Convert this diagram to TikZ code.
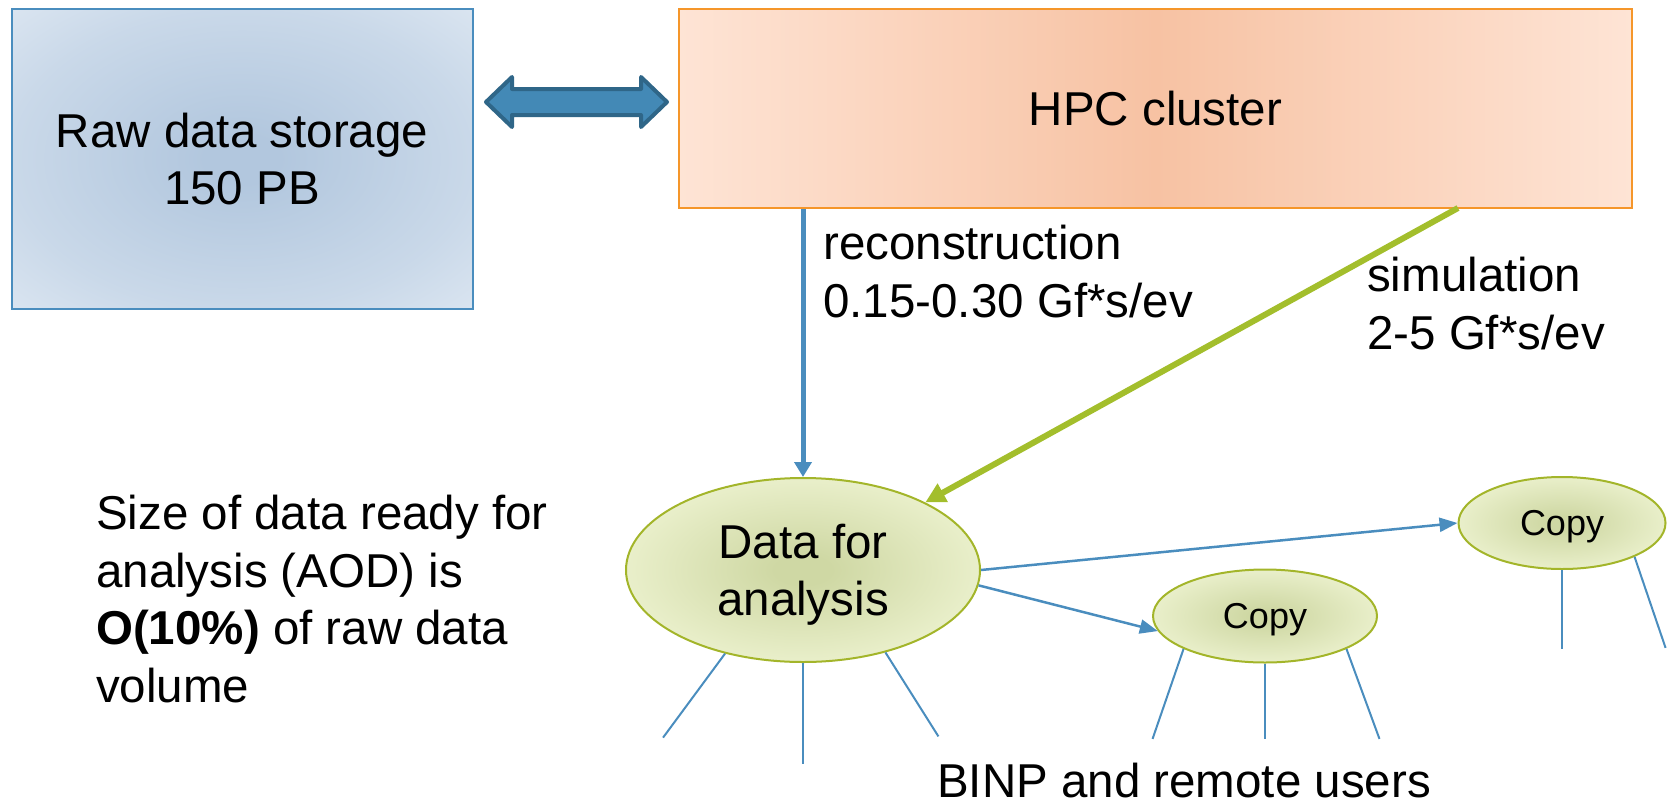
\documentclass[tikz,border=0pt]{standalone}
\usepackage{fontspec}
\setmainfont{Liberation Sans}
\usetikzlibrary{positioning,arrows.meta,shapes.geometric}

\definecolor{store-edge}{HTML}{4A8DBE}
\definecolor{store-in}{HTML}{B2C7DE}
\definecolor{store-out}{HTML}{D9E4F0}
\definecolor{hpc-edge}{HTML}{F5962A}
\definecolor{hpc-in}{HTML}{F7C2A3}
\definecolor{hpc-out}{HTML}{FEE4D5}
\definecolor{oval-edge}{HTML}{A3B52A}
\definecolor{oval-in}{HTML}{CFD8A4}
\definecolor{oval-out}{HTML}{E9EFCA}
\definecolor{line-blue}{HTML}{4A8DBE}
\definecolor{line-green}{HTML}{A3BE2C}
\definecolor{link-fill}{HTML}{4389B6}
\definecolor{link-edge}{HTML}{2F6688}

\pgfdeclareradialshading[store-in,store-out]{store-shade}{\pgfpoint{0bp}{0bp}}{%
  color(0bp)=(store-in); color(4bp)=(store-in); color(25bp)=(store-out!60!store-in); color(35bp)=(store-out); color(50bp)=(store-out)}
\pgfdeclareradialshading[oval-in,oval-out]{oval-shade}{\pgfpoint{0bp}{0bp}}{%
  color(0bp)=(oval-in); color(4bp)=(oval-in); color(25bp)=(oval-out); color(50bp)=(oval-out)}

\newcommand\txtbig{\fontsize{47.5}{57.5}\selectfont}
\newcommand\txtsmall{\fontsize{36}{43}\selectfont}

\begin{document}
\begin{tikzpicture}
[
x=1pt, y=-1pt,
box-a/.style={rectangle, draw=store-edge, line width=2pt, shading=store-shade, inner sep=0pt, align=center, font=\txtbig},
box-b/.style={rectangle, draw=hpc-edge, line width=2pt, left color=hpc-out, right color=hpc-out, middle color=hpc-in, inner sep=0pt, align=center, font=\txtbig},
oval-a/.style={ellipse, draw=oval-edge, line width=2pt, shading=oval-shade, inner sep=0pt, text depth=0pt, align=center, font=\txtbig},
oval-b/.style={oval-a, font=\txtsmall},
text-a/.style={black, inner sep=0pt, align=left, font=\txtbig},
link-a/.style={fill=link-fill, draw=link-edge, line width=4pt, line join=round},
arrow-a/.style={line-blue, line width=5pt, -{Triangle[length=15pt,width=17pt]}},
arrow-b/.style={line-green, line width=6pt, -{Triangle[length=20pt,width=20pt]}},
arrow-c/.style={line-blue, line width=2.5pt, -{Triangle[length=18pt,width=14pt]}},
line-a/.style={line-blue, line width=2pt}
]
\useasboundingbox (0,0) rectangle (1669,806);

\node (store)  [box-a, minimum width=461pt, minimum height=300pt] at (242,159)    {Raw data storage\\150 PB};
\node (hpc)    [box-b, minimum width=953pt, minimum height=199pt] at (1155.5,108.5) {HPC cluster};
\node (data)   [oval-a, minimum width=354pt, minimum height=184pt] at (803,570)    {Data for\\analysis};
\node (copy-1) [oval-b, minimum width=224pt, minimum height=93pt]  at (1265,616)   {Copy};
\node (copy-2) [oval-b, minimum width=207pt, minimum height=92pt]  at (1562,523)   {Copy};

\draw[link-a] (486,102) -- (512,77) -- (512,89) -- (641,89) -- (641,77) -- (667,102)
  -- (641,127) -- (641,115) -- (512,115) -- (512,127) -- cycle;

\node (rec-text) [text-a, anchor=north west] at (823,225)  {reconstruction\\0.15-0.30 Gf*s/ev};
\node (sim-text) [text-a, anchor=north west] at (1367,257) {simulation\\2-5 Gf*s/ev};
\node (aod-text) [text-a, anchor=north west] at (96,495)   {Size of data ready for\\analysis (AOD) is\\\textbf{O(10\%)} of raw data\\volume};
\node (users)    [text-a, anchor=base west]  at (937,797)  {BINP and remote users};

\coordinate (sim-out) at (1458,208);

\draw[arrow-a] (data.north |- hpc.south) -- (data.north);
\draw[arrow-b] (sim-out) -- (data);
\draw[arrow-c] (data.east) -- (copy-2.west);
\draw[arrow-c] (data.-5) -- (copy-1.188);

\draw[line-a] (data.227)    -- ++(-62,84);
\draw[line-a] (data.south)  -- ++(0,101);
\draw[line-a] (data.-45)    -- ++(53,84);
\draw[line-a] (copy-1.202)  -- ++(-31,90);
\draw[line-a] (copy-1.south) -- ++(0,75);
\draw[line-a] (copy-1.-22)  -- ++(33,90);
\draw[line-a] (copy-2.south) -- ++(0,79);
\draw[line-a] (copy-2.-25)  -- ++(31,91);
\end{tikzpicture}
\end{document}
